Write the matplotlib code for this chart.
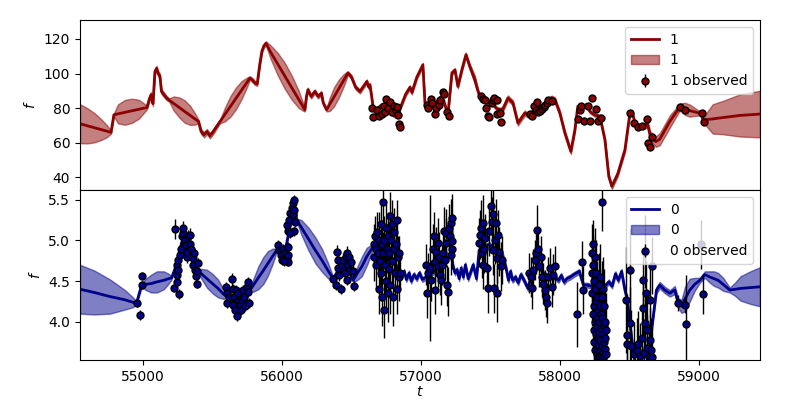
import matplotlib
matplotlib.use("Agg")
import matplotlib.pyplot as plt
import numpy as np


# ---- panel "1" (top): fitted mean, band half-width, observations ----
top_t = [54547, 54600, 54650, 54700, 54740, 54770, 54791, 54820, 54870, 54920,
         54970, 55010, 55029, 55045, 55058, 55072, 55086, 55098, 55110, 55122,
         55133, 55170, 55190, 55220, 55260, 55300, 55340, 55375, 55400, 55418,
         55440, 55460, 55482, 55506, 55530, 55555, 55590, 55630, 55670, 55710,
         55745, 55770, 55790, 55806, 55822, 55840, 55856, 55870, 55885, 55920,
         55970, 56020, 56070, 56120, 56150, 56165, 56177, 56187, 56210, 56237,
         56260, 56284, 56297, 56321, 56345, 56375, 56410, 56445, 56475, 56500,
         56530, 56561, 56590, 56611, 56625, 56633, 56645, 56655, 56670, 56690,
         56720, 56750, 56777, 56800, 56830, 56849, 56890, 56921, 56935, 56971,
         57014, 57029, 57065, 57090, 57110, 57137, 57165, 57194, 57223, 57245,
         57266, 57295, 57324, 57352, 57388, 57410, 57424, 57450, 57480, 57510,
         57540, 57568, 57590, 57626, 57662, 57698, 57748, 57784, 57810, 57850,
         57880, 57910, 57940, 57964, 58000, 58036, 58079, 58108, 58129, 58160,
         58190, 58216, 58250, 58288, 58324, 58352, 58374, 58417, 58468, 58504,
         58520, 58539, 58575, 58611, 58630, 58650, 58690, 58719, 58791, 58863,
         58900, 58935, 58980, 59019, 59029, 59055, 59100, 59175, 59295, 59439]
top_mean = [70.9, 69.7, 68.6, 67.5, 66.6, 65.9, 76.1, 76.6, 77.5, 78.4,
            79.3, 80.0, 80.3, 85.0, 87.7, 82.5, 101.0, 103.0, 100.0, 98.3,
            89.6, 85.8, 84.5, 82.7, 80.4, 78.0, 75.7, 73.6, 72.2, 66.4,
            64.5, 66.4, 63.9, 66.4, 69.3, 72.2, 76.3, 81.0, 85.7, 90.4,
            94.5, 97.4, 96.0, 94.5, 94.0, 105.0, 113.0, 116.0, 117.5, 112.2,
            105.4, 98.7, 91.9, 85.1, 81.0, 79.0, 87.0, 90.6, 86.7, 89.6,
            86.7, 88.6, 83.0, 79.0, 82.3, 86.5, 91.3, 96.2, 100.3, 98.0,
            92.0, 89.6, 93.0, 95.4, 92.0, 93.4, 87.0, 81.0, 78.0, 80.0,
            82.0, 80.0, 78.0, 76.0, 75.0, 79.5, 88.0, 92.0, 89.0, 98.0,
            105.0, 83.0, 82.0, 81.0, 83.0, 86.0, 84.0, 76.0, 100.3, 102.0,
            92.5, 102.2, 110.9, 104.0, 96.4, 90.0, 86.7, 85.0, 83.0, 84.0,
            80.0, 79.0, 79.5, 85.8, 83.0, 71.3, 77.1, 75.0, 79.0, 80.0,
            82.0, 84.0, 86.0, 84.8, 77.0, 65.5, 54.8, 67.4, 81.0, 80.0,
            82.0, 78.0, 76.0, 75.1, 61.6, 40.3, 34.6, 42.0, 55.8, 77.1,
            78.0, 71.5, 69.0, 69.5, 71.0, 64.0, 60.5, 62.0, 72.2, 80.6,
            79.5, 78.5, 77.5, 76.7, 73.0, 73.3, 73.7, 74.5, 75.7, 76.5]
top_hw = [11.3, 10.2, 8.5, 6.0, 3.5, 0.8, 0.8, 5.5, 7.2, 7.0,
          5.5, 2.5, 1.0, 1.5, 1.5, 1.5, 1.5, 1.5, 1.5, 1.5,
          1.5, 1.2, 1.0, 4.0, 5.8, 6.5, 5.5, 3.2, 1.0, 1.5,
          1.5, 1.5, 1.5, 1.5, 1.2, 1.0, 4.0, 6.0, 6.3, 5.2,
          3.0, 1.0, 1.2, 1.2, 1.2, 1.2, 1.2, 1.2, 1.2, 4.0,
          6.5, 7.5, 7.0, 5.0, 2.5, 1.0, 1.2, 1.2, 1.2, 1.2,
          1.2, 1.2, 1.0, 1.0, 4.0, 5.5, 5.2, 3.5, 1.0, 1.2,
          1.2, 1.2, 1.2, 1.2, 1.2, 1.2, 1.2, 1.0, 1.0, 1.0,
          1.0, 1.0, 1.0, 1.0, 1.0, 1.0, 1.2, 1.2, 1.2, 1.2,
          1.2, 1.0, 1.0, 1.0, 1.0, 1.0, 1.0, 1.0, 1.2, 1.2,
          1.2, 1.2, 1.2, 1.5, 2.5, 1.5, 1.0, 1.0, 1.0, 1.0,
          1.0, 1.0, 1.5, 1.5, 1.5, 1.5, 1.5, 1.2, 1.0, 1.0,
          1.0, 1.0, 1.2, 1.5, 1.5, 1.5, 1.5, 1.5, 1.0, 1.0,
          1.0, 1.0, 1.0, 1.2, 1.5, 1.5, 1.5, 1.5, 1.5, 1.0,
          1.0, 1.0, 1.0, 1.5, 2.0, 2.5, 3.0, 3.5, 3.5, 2.0,
          3.5, 3.5, 2.0, 1.0, 0.8, 3.9, 8.5, 9.7, 12.2, 13.5]

top_obs_t = [56647, 56655, 56683, 56698, 56719, 56734, 56741, 56748, 56763, 56777,
             56791, 56806, 56820, 56827, 56834, 56842, 56849,
             57043, 57050, 57072, 57079, 57101, 57108, 57129, 57137, 57158, 57165,
             57187, 57201,
             57432, 57446, 57460, 57468, 57482, 57489, 57511, 57518, 57525, 57547,
             57550, 57568, 57575,
             57784, 57798, 57813, 57827, 57834, 57842, 57856, 57870, 57885, 57892,
             57906, 57914, 57942,
             58129, 58144, 58151, 58172, 58201, 58216, 58230, 58259, 58273, 58295,
             58504, 58532, 58561, 58590, 58626, 58633, 58647, 58662,
             58863, 58899, 59021, 59036]
top_obs_f = [80.0, 74.6, 78.6, 75.3, 76.3, 81.3, 77.7, 85.2, 80.0, 83.3,
             77.7, 81.3, 78.6, 80.5, 75.8, 70.9, 69.0,
             81.9, 80.0, 85.4, 82.9, 76.7, 80.0, 81.9, 84.4, 89.0, 88.0,
             77.5, 75.6,
             87.1, 85.2, 84.8, 80.0, 75.6, 74.8, 83.0, 84.8, 85.6, 84.8,
             76.7, 77.1, 71.9,
             76.5, 75.2, 81.3, 79.0, 83.3, 77.5, 78.4, 79.4, 80.6, 81.9,
             82.9, 84.4, 84.2,
             73.8, 79.0, 81.3, 72.4, 81.3, 72.4, 85.8, 79.4, 72.4, 74.2,
             77.1, 71.3, 68.8, 69.4, 73.8, 59.7, 57.4, 63.2,
             80.6, 79.0, 77.1, 71.7]
top_obs_err = [1.5] * len(top_obs_t)

# ---- panel "0" (bottom) ----
bot_t = [54547, 54650, 54763, 54870, 54928, 54954, 54990, 55020, 55060, 55100,
         55150, 55185, 55206, 55230, 55260, 55290, 55320, 55350, 55380, 55398,
         55420, 55460, 55500, 55540, 55580, 55602, 55640, 55680, 55720, 55750,
         55770, 55795, 55830, 55866, 55900, 55935, 55962, 55990, 56020, 56050,
         56075, 56095, 56106, 56140, 56190, 56240, 56290, 56335, 56369, 56400,
         56440, 56480, 56513, 56540, 56575, 56610, 56640, 56657, 56700, 56760,
         56820, 56849, 56860, 56880, 56895, 56915, 56930, 56950, 56970, 56990,
         57010, 57040, 57080, 57120, 57160, 57200, 57215, 57232, 57245, 57260,
         57275, 57290, 57305, 57320, 57340, 57360, 57376, 57400, 57419, 57450,
         57490, 57530, 57560, 57580, 57600, 57615, 57630, 57645, 57660, 57680,
         57700, 57720, 57745, 57770, 57800, 57840, 57880, 57920, 57952, 57964,
         57990, 58010, 58030, 58050, 58075, 58100, 58120, 58140, 58155, 58170,
         58200, 58240, 58280, 58320, 58352, 58376, 58400, 58420, 58444, 58468,
         58485, 58504, 58527, 58560, 58620, 58660, 58695, 58719, 58755, 58791,
         58827, 58851, 58875, 58900, 58935, 58970, 59007, 59043, 59079, 59110,
         59139, 59175, 59223, 59260, 59300, 59370, 59439]
bot_mean = [4.40, 4.36, 4.31, 4.27, 4.24, 4.23, 4.45, 4.46, 4.47, 4.49,
            4.51, 4.53, 4.54, 4.65, 4.85, 5.05, 4.90, 4.80, 4.65, 4.62,
            4.59, 4.53, 4.47, 4.41, 4.34, 4.31, 4.25, 4.22, 4.28, 4.35,
            4.39, 4.45, 4.54, 4.63, 4.72, 4.81, 4.88, 4.87, 4.85, 5.10,
            5.35, 5.40, 5.25, 5.16, 5.02, 4.88, 4.75, 4.62, 4.53, 4.62,
            4.68, 4.62, 4.51, 4.59, 4.68, 4.80, 4.88, 4.92, 4.85, 4.80,
            4.70, 4.58, 4.55, 4.62, 4.52, 4.60, 4.50, 4.58, 4.53, 4.60,
            4.52, 4.55, 4.60, 4.65, 4.70, 4.80, 4.85, 4.68, 4.60, 4.64,
            4.53, 4.66, 4.55, 4.70, 4.53, 4.62, 4.70, 4.53, 4.88, 4.92,
            4.95, 4.90, 4.85, 4.84, 4.74, 4.64, 4.51, 4.62, 4.51, 4.55,
            4.48, 4.58, 4.50, 4.41, 4.60, 4.70, 4.60, 4.55, 4.55, 4.55,
            4.51, 4.57, 4.49, 4.53, 4.55, 4.58, 4.60, 4.62, 4.53, 4.45,
            4.45, 4.43, 4.40, 4.43, 4.49, 4.44, 4.59, 4.51, 4.62, 4.39,
            4.27, 3.98, 3.65, 3.30, 3.30, 3.90, 4.39, 4.45, 4.39, 4.35,
            4.39, 4.23, 4.19, 4.28, 4.39, 4.46, 4.51, 4.58, 4.55, 4.53,
            4.51, 4.46, 4.39, 4.40, 4.41, 4.42, 4.43]
bot_hw = [0.30, 0.27, 0.21, 0.12, 0.06, 0.02, 0.02, 0.07, 0.11, 0.13,
          0.11, 0.06, 0.02, 0.02, 0.02, 0.02, 0.02, 0.02, 0.02, 0.02,
          0.06, 0.11, 0.12, 0.11, 0.06, 0.02, 0.02, 0.02, 0.02, 0.02,
          0.02, 0.08, 0.14, 0.165, 0.15, 0.09, 0.02, 0.02, 0.02, 0.02,
          0.02, 0.02, 0.02, 0.09, 0.14, 0.16, 0.14, 0.09, 0.02, 0.02,
          0.02, 0.02, 0.02, 0.08, 0.12, 0.11, 0.06, 0.02, 0.03, 0.03,
          0.03, 0.03, 0.03, 0.03, 0.03, 0.03, 0.03, 0.03, 0.03, 0.03,
          0.03, 0.03, 0.03, 0.03, 0.03, 0.03, 0.03, 0.03, 0.03, 0.03,
          0.03, 0.03, 0.03, 0.03, 0.03, 0.03, 0.03, 0.03, 0.03, 0.03,
          0.03, 0.03, 0.04, 0.05, 0.05, 0.04, 0.03, 0.03, 0.03, 0.03,
          0.03, 0.03, 0.03, 0.03, 0.03, 0.03, 0.03, 0.03, 0.03, 0.03,
          0.03, 0.03, 0.03, 0.03, 0.03, 0.03, 0.03, 0.03, 0.03, 0.03,
          0.03, 0.03, 0.03, 0.03, 0.03, 0.03, 0.03, 0.03, 0.03, 0.03,
          0.03, 0.03, 0.03, 0.03, 0.03, 0.03, 0.04, 0.04, 0.04, 0.04,
          0.05, 0.06, 0.08, 0.15, 0.14, 0.08, 0.03, 0.04, 0.07, 0.09,
          0.09, 0.08, 0.03, 0.08, 0.15, 0.20, 0.24]

bot_obs_t = [54959, 54981, 54993, 54995,
             55225, 55230, 55242, 55247, 55247, 55254, 55254, 55261, 55268, 55273,
             55278, 55286, 55290, 55302, 55309, 55316, 55319, 55326, 55338, 55338,
             55345, 55358, 55363, 55367, 55374, 55381, 55388, 55391, 55398,
             55595, 55602, 55606, 55619, 55638, 55645, 55650, 55655, 55662, 55667,
             55674, 55681, 55686, 55698, 55705, 55714, 55722, 55729, 55734, 55746,
             55753, 55758, 55765,
             55973, 55981, 55990, 55998, 56009, 56020, 56034, 56045, 56041, 56045,
             56034, 56041, 56053, 56058, 56070, 56077, 56086, 56081, 56093, 56088,
             56058, 56086, 56012,
             56365, 56388, 56398, 56400, 56405, 56412, 56422, 56430, 56437, 56446,
             56452, 56460, 56465, 56470, 56476, 56484, 56488, 56494, 56518, 56509,
             56660, 56665, 56670, 56675, 56680, 56686, 56690, 56695, 56700, 56705,
             56710, 56714, 56718, 56722, 56726, 56730, 56734, 56738, 56742, 56746,
             56750, 56755, 56760, 56764, 56768, 56772, 56776, 56780, 56785, 56790,
             56795, 56800, 56805, 56810, 56815, 56820, 56825, 56830, 56835, 56840,
             56845, 56850,
             57036, 57041, 57050, 57065, 57072, 57088, 57093, 57101, 57101, 57110,
             57124, 57124, 57132, 57140, 57146, 57152, 57158, 57165, 57170, 57178,
             57185, 57180, 57196, 57203, 57208, 57214, 57221, 57224, 57226, 57218,
             57419, 57424, 57432, 57439, 57444, 57448, 57453, 57460, 57473, 57484,
             57491, 57501, 57509, 57516, 57520, 57525, 57532, 57539, 57544, 57549,
             57556, 57563, 57573, 57580,
             57779, 57789, 57796, 57808, 57820, 57827, 57832, 57844, 57851, 57861,
             57868, 57880, 57892, 57899, 57904, 57916, 57928, 57940, 57952, 57964,
             58124, 58156, 58167,
             58228, 58231, 58234, 58236, 58238, 58240, 58242, 58244, 58246, 58248,
             58250, 58252, 58254, 58256, 58258, 58260, 58262, 58264, 58266, 58268,
             58270, 58272, 58274, 58276, 58278, 58280, 58282, 58284, 58286, 58288,
             58290, 58292, 58294, 58296, 58298, 58300, 58302, 58304, 58306, 58308,
             58310, 58312, 58314, 58316, 58318, 58320, 58322, 58325, 58328, 58331,
             58334,
             58475, 58480, 58484, 58504, 58506, 58515, 58530, 58552, 58560, 58575,
             58590, 58595, 58600, 58605, 58611, 58615, 58620, 58625, 58630, 58640,
             58647, 58650, 58655, 58660, 58663,
             58851, 58899, 58906, 59019, 59031]
bot_obs_f = [4.23, 4.08, 4.45, 4.56,
             4.42, 5.14, 4.49, 4.58, 4.70, 4.76, 4.64, 4.34, 4.82, 4.90,
             5.05, 5.09, 5.15, 5.01, 4.94, 4.80, 4.86, 5.05, 5.07, 4.96,
             4.89, 4.78, 4.70, 4.84, 4.64, 4.56, 4.47, 4.62, 4.72,
             4.43, 4.23, 4.35, 4.30, 4.52, 4.21, 4.40, 4.31, 4.14, 4.39,
             4.07, 4.25, 4.35, 4.21, 4.14, 4.27, 4.39, 4.31, 4.19, 4.43,
             4.49, 4.37, 4.23,
             4.94, 4.88, 4.82, 4.76, 4.90, 4.84, 4.78, 4.92, 4.82, 4.74,
             5.19, 5.11, 5.25, 5.34, 5.40, 5.46, 5.50, 5.32, 5.23, 5.11,
             5.09, 5.38, 4.75,
             4.52, 4.45, 4.86, 4.76, 4.66, 4.58, 4.40, 4.70, 4.76, 4.64,
             4.60, 4.80, 4.51, 4.85, 4.70, 4.80, 4.64, 4.74, 4.44, 4.62,
             4.95, 4.80, 5.05, 4.70, 4.90, 5.10, 4.85, 4.40, 5.00, 4.75,
             5.20, 4.60, 4.95, 4.30, 5.47, 4.85, 4.15, 5.00, 4.70, 5.15,
             4.50, 4.90, 4.35, 5.05, 4.65, 4.85, 5.30, 4.45, 5.00, 4.75,
             5.20, 4.30, 4.90, 5.10, 4.60, 4.95, 4.40, 5.25, 4.80, 4.55,
             4.85, 4.60,
             4.70, 4.35, 4.60, 4.66, 4.51, 4.90, 5.05, 4.39, 4.74, 4.86,
             4.97, 4.68, 4.80, 4.58, 4.51, 4.70, 4.84, 5.11, 4.76, 4.97,
             4.45, 5.09, 4.37, 5.15, 5.05, 5.21, 5.27, 4.99, 4.90, 4.82,
             4.97, 5.07, 5.15, 4.84, 4.70, 5.21, 4.90, 5.03, 4.66, 4.41,
             5.11, 5.42, 5.23, 4.88, 5.32, 4.41, 5.01, 5.21, 4.78, 4.35,
             5.07, 4.86, 4.68, 4.76,
             4.60, 4.55, 4.41, 4.64, 4.76, 4.84, 5.13, 4.90, 4.68, 4.80,
             4.55, 4.47, 4.39, 4.31, 4.23, 4.55, 4.66, 4.43, 4.58, 4.68,
             4.09, 4.74, 4.39,
             4.85, 4.60, 4.35, 4.95, 4.10, 4.70, 3.90, 4.50, 4.20, 3.75,
             4.80, 4.00, 4.40, 3.65, 4.25, 3.85, 4.60, 3.60, 4.05, 3.95,
             4.30, 3.70, 4.15, 3.80, 4.45, 3.58, 4.00, 3.88, 4.20, 3.65,
             4.55, 3.78, 4.10, 3.92, 3.60, 5.47, 4.30, 3.70, 4.05, 3.85,
             4.40, 3.62, 3.95, 4.20, 3.75, 3.58, 4.00, 3.80, 3.66, 3.90,
             3.60,
             4.27, 3.84, 3.73, 4.64, 3.98, 3.70, 3.60, 3.65, 3.73, 3.58,
             3.80, 4.51, 4.17, 3.62, 4.86, 3.98, 4.35, 3.68, 3.90, 3.57,
             4.27, 3.77, 3.65, 4.69, 3.57,
             4.23, 4.21, 3.97, 4.95, 4.34]
bot_obs_err = [0.05, 0.06, 0.05, 0.05,
               0.06, 0.12, 0.06, 0.06, 0.07, 0.07, 0.07, 0.06, 0.08, 0.08,
               0.09, 0.09, 0.09, 0.09, 0.08, 0.08, 0.08, 0.08, 0.08, 0.08,
               0.08, 0.07, 0.07, 0.07, 0.07, 0.06, 0.06, 0.06, 0.06,
               0.06, 0.06, 0.06, 0.06, 0.08, 0.06, 0.06, 0.06, 0.06, 0.06,
               0.06, 0.06, 0.06, 0.06, 0.06, 0.06, 0.06, 0.06, 0.06, 0.06,
               0.06, 0.06, 0.06,
               0.06, 0.06, 0.06, 0.06, 0.06, 0.06, 0.06, 0.06, 0.06, 0.06,
               0.06, 0.06, 0.06, 0.06, 0.06, 0.06, 0.06, 0.06, 0.06, 0.06,
               0.06, 0.06, 0.06,
               0.06, 0.06, 0.08, 0.08, 0.08, 0.08, 0.06, 0.08, 0.08, 0.08,
               0.08, 0.08, 0.06, 0.08, 0.08, 0.08, 0.08, 0.08, 0.06, 0.08,
               0.25, 0.30, 0.25, 0.30, 0.20, 0.25, 0.30, 0.30, 0.35, 0.30,
               0.30, 0.35, 0.30, 0.35, 0.30, 0.25, 0.35, 0.30, 0.35, 0.30,
               0.35, 0.30, 0.35, 0.30, 0.35, 0.30, 0.30, 0.35, 0.25, 0.30,
               0.30, 0.35, 0.30, 0.30, 0.30, 0.25, 0.30, 0.25, 0.25, 0.30,
               0.20, 0.20,
               0.25, 0.30, 0.25, 0.90, 0.25, 0.30, 0.30, 0.30, 0.25, 0.30,
               0.30, 0.25, 0.30, 0.25, 0.30, 0.25, 0.30, 0.30, 0.25, 0.30,
               0.25, 0.30, 0.30, 0.30, 0.25, 0.30, 0.30, 0.25, 0.25, 0.25,
               0.30, 0.30, 0.35, 0.30, 0.30, 0.35, 0.30, 0.30, 0.30, 0.30,
               0.30, 0.35, 0.30, 0.30, 0.35, 0.30, 0.30, 0.30, 0.30, 0.35,
               0.30, 0.30, 0.30, 0.30,
               0.25, 0.25, 0.25, 0.25, 0.25, 0.25, 0.30, 0.25, 0.25, 0.25,
               0.25, 0.25, 0.25, 0.25, 0.25, 0.25, 0.25, 0.25, 0.25, 0.25,
               0.40, 0.25, 0.30,
               0.35, 0.40, 0.40, 0.30, 0.45, 0.35, 0.45, 0.40, 0.45, 0.50,
               0.35, 0.45, 0.40, 0.50, 0.45, 0.45, 0.40, 0.50, 0.45, 0.45,
               0.45, 0.50, 0.45, 0.50, 0.40, 0.50, 0.45, 0.50, 0.45, 0.50,
               0.40, 0.50, 0.45, 0.50, 0.50, 0.35, 0.45, 0.50, 0.45, 0.50,
               0.40, 0.50, 0.50, 0.45, 0.50, 0.50, 0.45, 0.50, 0.50, 0.45,
               0.45,
               0.65, 0.50, 0.50, 0.50, 0.45, 0.45, 0.40, 0.40, 0.40, 0.40,
               0.40, 0.35, 0.40, 0.40, 0.45, 0.40, 0.40, 0.40, 0.40, 0.40,
               0.40, 0.40, 0.40, 0.35, 0.35,
               0.10, 0.10, 0.60, 0.30, 0.25]


def draw_panel(ax, t, mean, hw, obs_t, obs_f, obs_err, color, name):
    t = np.asarray(t)
    mean = np.asarray(mean)
    hw = np.asarray(hw)
    ax.plot(t, mean, color=color, lw=2, label=name, zorder=2)
    ax.fill_between(t, mean - hw, mean + hw, color=color, alpha=0.5,
                    lw=1, label=name, zorder=1)
    ax.errorbar(obs_t, obs_f, yerr=obs_err, fmt="o", ms=5, mfc=color,
                mec="black", mew=1, ecolor="black", elinewidth=1.0,
                label=f"{name} observed", zorder=3)
    ax.set_ylabel("$f$")
    ax.legend(loc="upper right")


fig, (ax1, ax2) = plt.subplots(2, 1, sharex=True, figsize=(8, 4), dpi=100)
fig.subplots_adjust(left=0.1, right=0.95, top=0.95, bottom=0.1, hspace=0)

draw_panel(ax1, top_t, top_mean, top_hw, top_obs_t, top_obs_f, top_obs_err,
           "darkred", "1")
draw_panel(ax2, bot_t, bot_mean, bot_hw, bot_obs_t, bot_obs_f, bot_obs_err,
           "darkblue", "0")

ax1.set_ylim(32.5, 131)
ax1.set_yticks([40, 60, 80, 100, 120])
ax2.set_ylim(3.53, 5.62)
ax2.set_yticks([4.0, 4.5, 5.0, 5.5])
ax2.set_xlim(54547, 59440)
ax2.set_xticks([55000, 56000, 57000, 58000, 59000])
ax2.set_xlabel("$t$", labelpad=1)

fig.savefig("out.png")
